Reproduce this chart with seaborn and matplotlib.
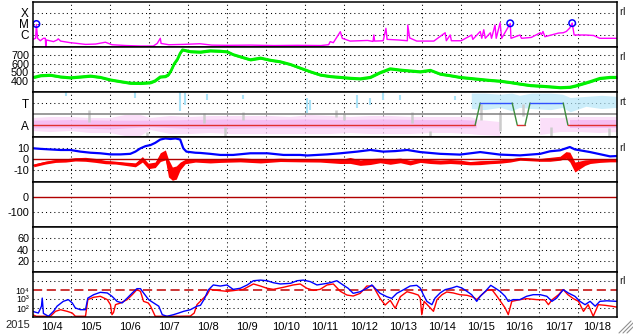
import numpy as np
import pandas as pd
import matplotlib
matplotlib.use("Agg")
import matplotlib.pyplot as plt
import seaborn as sns
from matplotlib.lines import Line2D

sns.set_theme(style="white")
plt.rcParams['font.family'] = ['Liberation Sans', 'DejaVu Sans']

# ---------------- data (time in days since 2015-10-04 00:00) ----------------
day_labels = ["10/4", "10/5", "10/6", "10/7", "10/8", "10/9", "10/10", "10/11",
              "10/12", "10/13", "10/14", "10/15", "10/16", "10/17", "10/18"]
year_label = "2015"

xray = [(0.00,4e-7),(0.08,5e-7),(0.10,9e-6),(0.13,5e-7),(0.20,3e-7),(0.28,5e-7),(0.33,5e-7),
        (0.34,9e-8),(0.36,3.5e-7),(0.54,2.5e-7),(0.63,3.5e-7),(0.66,4.5e-7),(0.72,2.8e-7),
        (0.97,2e-7),(1.10,1.8e-7),(1.36,1.4e-7),(1.62,1.5e-7),(1.87,2.2e-7),(2.04,1.3e-7),
        (2.40,1.1e-7),(2.77,1e-7),(3.10,1e-7),(3.20,1.7e-7),(3.28,5e-7),(3.30,1.7e-7),
        (3.50,1.3e-7),(3.88,1.4e-7),(4.30,1.6e-7),(4.60,1.2e-7),(5.00,1.15e-7),(5.60,1.2e-7),
        (6.20,1.1e-7),(6.80,1.15e-7),(7.40,1.1e-7),(7.60,1.3e-7),(7.64,2.5e-7),(7.72,2e-7),
        (7.90,2e-6),(7.95,5e-7),(8.15,2.8e-7),(8.40,3e-7),(8.60,3.2e-7),(8.74,2.6e-7),
        (8.76,1e-6),(8.78,2.8e-7),(9.00,3e-7),(9.07,4e-6),(9.10,4e-7),(9.40,3.5e-7),
        (9.62,3e-7),(9.63,8e-6),(9.68,5.4e-7),(9.86,2.8e-7),(10.00,2.8e-7),(10.30,2.8e-7),
        (10.59,1.6e-6),(10.62,3e-7),(10.72,1e-6),(10.75,3e-7),(11.00,3e-7),(11.27,1e-6),
        (11.30,4e-7),(11.49,2.1e-6),(11.53,5e-7),(11.58,3e-6),(11.62,5e-7),(11.75,1.6e-6),
        (11.78,5e-7),(11.87,8e-6),(11.90,5e-7),(12.00,1.26e-5),(12.04,5e-7),(12.26,1.1e-5),
        (12.28,5e-7),(12.51,1e-6),(12.55,5e-7),(12.80,6e-7),(13.03,1.6e-6),(13.06,1.1e-6),
        (13.10,2.1e-6),(13.15,7e-7),(13.50,1.5e-6),(13.62,1.6e-6),(13.70,2.1e-6),
        (13.79,4.4e-6),(13.85,1.2e-5),(13.90,1e-6),(14.20,1e-6),(14.40,9e-7),(14.56,5e-7),
        (15.00,5e-7)]
flares = [(0.10,1.0e-5),(12.26,1.15e-5),(13.85,1.2e-5)]

speed = [(0.03,440),(0.21,460),(0.46,465),(0.72,445),(0.97,435),(1.23,445),(1.49,455),
         (1.74,440),(2.00,410),(2.26,390),(2.51,372),(2.77,370),(3.03,378),(3.15,400),
         (3.28,445),(3.41,450),(3.49,470),(3.56,520),(3.64,600),(3.72,650),(3.79,720),
         (3.85,760),(4.05,740),(4.31,735),(4.56,750),(4.82,745),(5.00,738),(5.15,705),
         (5.33,680),(5.59,645),(5.85,665),(6.10,640),(6.36,622),(6.62,590),(6.87,548),
         (7.13,505),(7.38,468),(7.64,450),(7.90,440),(8.15,430),(8.41,423),(8.67,440),
         (8.92,495),(9.18,540),(9.44,525),(9.69,515),(9.95,505),(10.21,522),(10.46,478),
         (10.72,460),(10.97,440),(11.23,428),(11.49,416),(11.74,405),(12.00,396),
         (12.26,380),(12.51,362),(12.77,345),(13.03,338),(13.28,330),(13.54,320),
         (13.79,325),(13.92,338),(14.05,355),(14.31,390),(14.56,428),(14.82,440),(15.00,440)]

# IMF sector: pink (away) cloud range, light-blue (toward) cloud range, gray specks
phi_pink = [(0.03,-1.55,-0.36),(0.46,-1.64,-0.27),(0.97,-1.55,-0.27),(1.49,-1.73,-0.36),
            (2.00,-1.73,-0.36),(2.38,-2.0,-0.09),(2.77,-2.0,-0.09),(3.03,-1.45,-0.36),
            (3.54,-1.82,-0.18),(4.05,-1.82,-0.27),(4.56,-1.73,-0.18),(5.08,-1.82,-0.18),
            (5.59,-1.82,-0.18),(6.10,-1.82,-0.18),(6.62,-1.82,-0.27),(7.13,-1.82,-0.09),
            (7.64,-1.82,-0.18),(8.15,-1.73,-0.27),(8.67,-1.82,-0.18),(9.18,-1.82,-0.18),
            (9.69,-1.82,-0.27),(10.21,-1.73,-0.27),(10.72,-1.73,-0.27),(11.23,-1.82,-0.27),
            (11.49,-1.91,-0.55),(12.00,-2.0,-0.73),(12.10,np.nan,np.nan),(12.90,np.nan,np.nan),
            (13.03,-1.91,-0.36),(13.54,-1.64,-0.36),(14.05,-1.64,-0.27),(14.56,-1.73,-0.27),
            (15.00,-1.64,-0.27)]
phi_pink_core = [(0.03,-1.3,-0.6),(1.0,-1.3,-0.55),(2.0,-1.4,-0.6),(3.0,-1.2,-0.6),
                 (4.0,-1.35,-0.55),(5.0,-1.35,-0.5),(6.0,-1.3,-0.55),(7.0,-1.3,-0.5),
                 (8.0,-1.3,-0.55),(9.0,-1.35,-0.5),(10.0,-1.3,-0.55),(11.0,-1.3,-0.55),
                 (11.4,-1.3,-0.6),(11.45,np.nan,np.nan),(13.6,np.nan,np.nan),
                 (13.8,-1.3,-0.55),(15.0,-1.3,-0.55)]
phi_blue_band = [(11.26,0.5,1.9),(11.6,0.4,1.9),(12.0,0.6,1.8),(12.3,0.3,1.9),(12.5,0.6,1.7),
                 (12.8,0.5,1.9),(13.3,0.4,1.9),(13.6,0.6,1.8),(13.8,0.2,1.5),(14.2,0.7,1.6),
                 (14.6,0.5,1.7),(15.0,0.6,1.6)]
phi_blue_specks = [(0.85,1.6,2.0),(2.64,1.5,2.0),(3.79,0.3,2.0),(3.92,0.8,1.9),(4.48,1.3,1.8),
                   (5.41,1.4,1.7),(7.05,0.1,1.5),(7.13,0.4,1.3),(8.33,0.55,1.7),(8.67,0.8,1.5),
                   (9.00,1.3,2.0),(9.44,1.3,1.7),(10.85,1.3,1.6)]
phi_gray_specks = [(1.44,-0.7,0.4),(2.95,-2.0,-1.6),(4.41,-0.8,0.1),(4.95,-2.0,-1.2),
                   (5.40,-0.5,0.2),(7.80,-0.3,0.4),(8.00,-0.5,0.1),(9.75,-0.8,0.2),
                   (10.20,-2.0,-1.5),(11.50,-0.5,0.9),(12.00,-1.5,0.2),(12.60,-0.2,0.9),
                   (13.30,-2.0,-1.2),(14.80,-2.0,-1.3)]
sector_days = [0.0, 11.36, 11.49, 12.31, 12.44, 12.64, 12.77, 13.62, 13.74, 15.0]
sector_vals = [-1, -1, 1, 1, -1, -1, 1, 1, -1, -1]

bt = [(0.03,10),(0.21,9.5),(0.46,9),(0.72,8.5),(0.97,8.5),(1.23,7),(1.49,6),(1.74,5.5),
      (2.00,4.5),(2.26,4.5),(2.51,5),(2.64,7),(2.77,10),(2.90,12),(3.03,13),(3.15,15),
      (3.28,18),(3.41,19),(3.54,18.5),(3.67,19),(3.79,18),(3.87,10),(3.95,7),(4.18,6),
      (4.31,5.8),(4.56,5),(4.82,4),(5.15,4),(5.59,5.5),(6.03,5.5),(6.44,4),(6.87,4),
      (7.05,3.5),(7.56,4.5),(7.90,5.5),(8.33,7),(8.67,8.5),(9.00,7),(9.31,7.5),(9.62,8.5),
      (9.95,6.6),(10.46,5),(10.97,4.3),(11.49,6.6),(12.00,4.3),(12.51,3.6),(13.03,5),
      (13.28,7.3),(13.54,8.2),(13.79,11.2),(13.92,9),(14.31,6.6),(14.82,2.7),(15.00,3)]
# Bz: (day, centre, half-spread of the noisy trace)
bz = [(0.03,-5.5,1.3),(0.33,-3,1.3),(0.59,-1.5,1.3),(0.85,-1,1.5),(1.10,0,1.5),(1.36,0,1.8),
      (1.62,-1,1.8),(1.87,-2.5,1.5),(2.13,-3,1.3),(2.38,-4,1.5),(2.64,-5,1.8),(2.82,0,2.5),
      (2.97,-6,2.5),(3.15,-5,2.5),(3.28,2,4),(3.41,4,4.5),(3.49,-8,8),(3.59,-13,6),(3.69,-12,6),
      (3.79,-6,3.5),(3.92,-2,2),(4.18,-1,1.5),(4.56,-1.5,1.8),(4.82,-1,1.8),(5.33,-0.5,1.8),
      (5.85,-1.5,1.8),(6.36,-0.5,1.5),(6.87,-1,1.3),(7.38,-1,1.5),(7.90,-2,1.8),(8.15,-1,2.7),
      (8.41,-3,2.5),(8.67,-2,2.7),(8.92,-1,2.1),(9.18,-2,2.5),(9.44,-1,2.1),(9.69,-3,2.1),
      (9.95,-1,1.8),(10.21,-2,1.8),(10.46,-2.5,1.8),(10.72,-2,1.8),(10.97,-2.5,1.8),(11.23,-3.5,1.5),
      (11.49,-3,1.8),(11.74,-2.5,1.5),(12.00,-2,1.5),(12.26,-1,1.5),(12.51,0.5,1.3),(12.77,0,1.3),
      (13.03,-0.5,1.3),(13.28,0,1.8),(13.54,1,1.8),(13.69,4,3),(13.79,2,4.5),(13.92,-7,4.5),
      (14.05,-5,3.5),(14.18,-3,2.5),(14.31,-2,1.8),(14.56,-1.5,1.3),(14.82,-1,1.3),(15.00,-1,1.3)]

# electron flux, log10 values
e_blue = [(0.00,1.63),(0.15,1.44),(0.23,2.2),(0.25,3.1),(0.28,1.4),(0.41,1.08),(0.54,1.63),
          (0.63,2.2),(0.79,2.74),(0.92,2.93),(1.02,2.56),(1.10,2.0),(1.23,1.81),(1.36,1.81),
          (1.42,3.1),(1.57,3.48),(1.74,3.74),(1.92,3.67),(2.04,3.3),(2.17,2.74),(2.30,2.56),
          (2.43,3.1),(2.56,3.67),(2.68,4.15),(2.77,4.15),(2.85,3.67),(2.98,2.93),(3.11,2.56),
          (3.24,2.2),(3.33,1.26),(3.45,1.08),(3.62,1.26),(3.75,1.44),(3.88,1.63),(4.05,1.81),
          (4.22,2.2),(4.31,2.3),(4.41,3.0),(4.51,4.0),(4.64,4.56),(4.82,4.44),(4.99,4.56),
          (5.15,4.07),(5.33,4.19),(5.51,4.56),(5.67,5.03),(5.85,5.1),(6.02,5.03),(6.18,4.81),
          (6.36,4.67),(6.62,4.74),(6.79,5.03),(6.95,5.1),(7.13,4.93),(7.30,4.56),(7.46,4.67),
          (7.64,4.81),(7.81,5.03),(7.97,4.56),(8.10,4.19),(8.23,3.63),(8.41,3.81),(8.58,4.19),
          (8.71,4.56),(8.79,4.19),(8.92,3.63),(9.09,3.26),(9.22,3.07),(9.35,3.63),(9.51,4.0),
          (9.69,4.44),(9.86,4.52),(9.95,4.22),(10.03,3.48),(10.12,2.74),(10.25,2.37),
          (10.33,3.1),(10.46,3.67),(10.59,4.04),(10.76,4.22),(10.89,4.41),(11.02,4.22),
          (11.15,3.85),(11.27,3.48),(11.40,2.74),(11.49,3.3),(11.62,3.85),(11.76,4.52),
          (11.87,4.22),(12.00,3.85),(12.13,3.3),(12.21,2.74),(12.34,2.93),(12.51,2.93),
          (12.68,3.3),(12.85,3.48),(13.03,3.48),(13.20,3.3),(13.33,2.74),(13.45,3.1),
          (13.62,4.04),(13.75,3.67),(13.92,3.3),(14.05,2.74),(14.18,2.37),(14.31,2.74),
          (14.44,2.2),(14.56,2.74),(14.74,2.8),(14.99,2.74)]
e_red = [(0.00,1.26),(0.10,1.08),(0.33,1.08),(0.46,1.08),(0.59,1.63),(0.72,1.81),(0.89,1.63),
         (1.02,1.44),(1.10,1.08),(1.36,1.08),(1.42,2.93),(1.57,3.19),(1.74,3.3),(1.92,2.93),
         (2.00,2.37),(2.04,1.26),(2.08,1.5),(2.13,2.37),(2.26,2.56),(2.43,2.93),(2.56,3.48),
         (2.68,4.04),(2.77,3.85),(2.85,2.74),(2.97,2.56),(3.03,2.2),(3.15,1.08),(3.54,1.08),
         (3.79,1.08),(4.05,1.1),(4.15,1.44),(4.22,2.37),(4.35,2.93),(4.48,3.48),(4.56,4.1),
         (4.64,4.0),(4.82,3.93),(4.99,3.85),(5.15,3.93),(5.41,4.07),(5.67,4.67),(5.85,4.44),
         (6.02,4.19),(6.18,4.07),(6.44,4.3),(6.69,4.56),(6.87,4.67),(7.04,4.19),(7.21,3.96),
         (7.38,4.07),(7.56,4.56),(7.72,4.67),(7.90,3.85),(8.07,3.44),(8.23,3.33),(8.41,3.63),
         (8.58,4.44),(8.74,4.44),(8.92,3.07),(9.05,2.33),(9.18,2.85),(9.31,1.96),(9.44,3.26),
         (9.61,3.81),(9.77,3.63),(9.90,3.44),(9.95,3.1),(9.99,1.26),(10.05,2.74),(10.21,2.0),
         (10.29,1.63),(10.38,2.93),(10.51,3.48),(10.63,3.78),(10.80,3.67),(10.97,3.48),
         (11.15,3.41),(11.32,3.19),(11.40,2.93),(11.53,3.48),(11.66,3.96),(11.79,4.04),
         (11.92,3.3),(12.04,2.56),(12.13,2.0),(12.21,1.26),(12.30,2.74),(12.51,2.93),
         (12.68,3.04),(12.94,2.93),(13.15,2.9),(13.24,2.37),(13.33,2.9),(13.50,3.48),
         (13.62,4.04),(13.74,3.48),(13.88,3.04),(14.01,2.74),(14.14,1.63),(14.26,2.37),
         (14.39,1.08),(14.52,2.37),(14.69,2.3),(14.86,2.2),(14.99,2.1)]
e_threshold = 1e4
e_tick_labels = ["10\u00b2", "10\u00b3", "10\u2074"]

# ---------------- figure ----------------
W, H = 633, 334
fig = plt.figure(figsize=(W/100, H/100), dpi=100)
L, R = 32.5, 617.0
axes = []
for i in range(7):
    top = 2 + 45 * i
    ax = fig.add_axes([L/W, 1 - (top + 45)/H, (R - L)/W, 45/H])
    axes.append(ax)

DOT = dict(color='black', lw=0.75, ls=(0, (1.0, 3.0)), zorder=1)
MAG, GRN, BLU, RED, DRED = '#ff00ff', '#00f000', '#0000ff', '#ff0000', '#b00000'
YFS = 7.8

def line(ax, x, y, **kw):
    sns.lineplot(x=np.asarray(x, float), y=np.asarray(y, float), ax=ax, estimator=None,
                 sort=False, legend=False, **kw)

for ax in axes:
    ax.set_xlim(0, 15)
    for d in range(1, 15):
        ax.axvline(d, **DOT)
    for s in ax.spines.values():
        s.set_color('black'); s.set_linewidth(1.1); s.set_zorder(10)
    ax.tick_params(length=0, pad=2.5, labelsize=YFS, colors='black')
    ax.set_xticks([])
    ax.set_facecolor('white')

# 1: X-ray
ax = axes[0]
ax.set_yscale('log')
ax.set_ylim(8.1e-8, 1e-3)
for v in (1e-6, 1e-5, 1e-4):
    ax.axhline(v, **DOT)
xd, xf = zip(*xray)
line(ax, xd, xf, color=MAG, lw=1.0, zorder=3)
fd, ff = zip(*flares)
sns.scatterplot(x=list(fd), y=list(ff), ax=ax, s=22, marker='o', color=BLU, zorder=4, legend=False)
coll = ax.collections[-1]
coll.set_facecolor('none'); coll.set_edgecolor(BLU); coll.set_linewidth(1.1)
ax.set_yticks([1e-6, 1e-5, 1e-4]); ax.set_yticklabels(['C', 'M', 'X'])
ax.minorticks_off()
ax.tick_params(labelsize=8.5)

# 2: speed
ax = axes[1]
ax.set_ylim(268, 793)
for v in (400, 500, 600, 700):
    ax.axhline(v, **DOT)
sd, sv = map(np.array, zip(*speed))
ax.fill_between(sd, sv - 15, sv + 15, color=GRN, lw=0, zorder=2)
line(ax, sd, sv, color=GRN, lw=2.0, zorder=3)
ax.set_yticks([400, 500, 600, 700]); ax.set_yticklabels(['400', '500', '600', '700'])

# 3: sector
ax = axes[2]
ax.set_ylim(-2.09, 2.0)
ax.axhline(1, **DOT)
ax.axhline(0, color='#808080', lw=1.1, zorder=2)
pd_, plo, phi_ = map(np.array, zip(*phi_pink))
ax.fill_between(pd_, plo, phi_, color='#fad2f7', lw=0, alpha=0.7, zorder=1.5)
cd, clo, chi = map(np.array, zip(*phi_pink_core))
ax.fill_between(cd, clo, chi, color='#f5b4f0', lw=0, alpha=0.75, zorder=1.55)
bd, blo, bhi = map(np.array, zip(*phi_blue_band))
ax.fill_between(bd, blo, bhi, color='#b5e6f8', lw=0, alpha=0.7, zorder=1.5)
for d, lo, hi in phi_blue_specks:
    ax.vlines(d, lo, hi, color='#a9e2f7', lw=1.5, zorder=1.6)
for d, lo, hi in phi_gray_specks:
    ax.vlines(d, lo, hi, color='#cccccc', lw=1.8, zorder=1.6)
for j in range(len(sector_days) - 1):
    v0, v1 = sector_vals[j], sector_vals[j + 1]
    if v0 == v1 == -1:
        c = '#e03030'
    elif v0 == v1 == 1:
        c = '#3050ff'
    else:
        c = '#3c8c3c'
    line(ax, sector_days[j:j + 2], sector_vals[j:j + 2], color=c, lw=1.0, zorder=3)
ax.set_yticks([-1, 1]); ax.set_yticklabels(['A', 'T'])
ax.tick_params(labelsize=8.5)

# 4: IMF
ax = axes[3]
ax.set_ylim(-20.6, 20.3)
ax.axhline(10, **DOT); ax.axhline(-10, **DOT)
zd, zc, zh = map(np.array, zip(*bz))
ax.fill_between(zd, zc - zh, zc + zh, color=RED, lw=0, zorder=2)
line(ax, zd, zc, color=RED, lw=1.0, zorder=2)
ax.axhline(0, color=DRED, lw=1.0, zorder=2.5)
td, tv = zip(*bt)
line(ax, td, tv, color=BLU, lw=1.6, zorder=3)
ax.set_yticks([-10, 0, 10]); ax.set_yticklabels(['-10', '0', '10'])

# 5: Dst (no data)
ax = axes[4]
ax.set_ylim(-200, 100)
ax.axhline(-100, **DOT)
ax.axhline(0, color=DRED, lw=1.0, zorder=2)
ax.set_yticks([-100, 0]); ax.set_yticklabels(['-100', '0'])

# 6: (no data)
ax = axes[5]
ax.set_ylim(0, 80)
for v in (20, 40, 60):
    ax.axhline(v, **DOT)
ax.set_yticks([20, 40, 60]); ax.set_yticklabels(['20', '40', '60'])

# 7: electrons
ax = axes[6]
ax.set_yscale('log')
ax.set_ylim(10, 1e6)
for v in (1e2, 1e3, 1e5):
    ax.axhline(v, **DOT)
ax.axhline(e_threshold, color='#c00000', lw=1.1, ls=(0, (6, 3)), zorder=2)
rd, rv = zip(*e_red)
line(ax, rd, 10 ** np.array(rv), color=RED, lw=1.0, zorder=3)
bd2, bv2 = zip(*e_blue)
line(ax, bd2, 10 ** np.array(bv2), color=BLU, lw=1.0, zorder=3)
ax.set_yticks([1e2, 1e3, 1e4]); ax.set_yticklabels(e_tick_labels)
ax.minorticks_off()
ax.tick_params(axis='y', labelsize=6.3)
ax.set_xticks(np.arange(15) + 0.5)
ax.set_xticklabels(day_labels)
ax.tick_params(axis='x', pad=3.5, labelsize=8)

for a in axes:
    a.set_xlabel(''); a.set_ylabel('')

fig.text(5/W, 1 - 325/H, year_label, fontsize=8, va='center', ha='left')
for y, s in [(12, 'rI'), (57, 'rI'), (102, 'rt'), (148, 'rI'), (281, 'rI')]:
    fig.text(619/W, 1 - y/H, s, fontsize=8, va='center', ha='left')
for k in range(3):
    x0 = 619 + 4 * k
    fig.add_artist(Line2D([x0/W, (x0 + 12)/W], [1 - 333/H, 1 - 321/H],
                          transform=fig.transFigure, color='#909090', lw=0.8))

fig.savefig('out.png', dpi=100, facecolor='white')
